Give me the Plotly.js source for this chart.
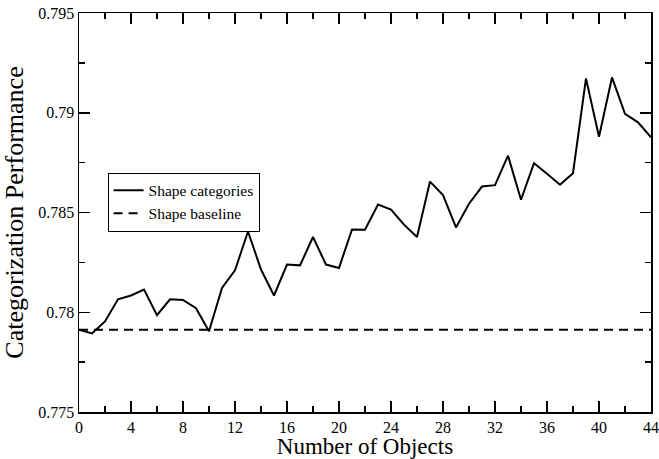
<!DOCTYPE html>
<html>
<head>
<meta charset="utf-8">
<script src="https://cdn.plot.ly/plotly-3.0.1.min.js"></script>
<style>html,body{margin:0;padding:0;background:#fff;}#chart{width:659px;height:459px;}</style>
</head>
<body>
<div id="chart"></div>
<script>
const numObjects = [0,1,2,3,4,5,6,7,8,9,10,11,12,13,14,15,16,17,18,19,20,21,22,23,24,25,26,27,28,29,30,31,32,33,34,35,36,37,38,39,40,41,42,43,44];
const shapeCategories = [0.77913,0.77894,0.77954,0.78065,0.78084,0.78114,0.77985,0.78065,0.78062,0.7802,0.77905,0.78122,0.7821,0.78405,0.78214,0.78084,0.78239,0.78235,0.78377,0.78239,0.78222,0.78415,0.78414,0.7854,0.78515,0.78439,0.78377,0.78655,0.78587,0.78425,0.78544,0.7863,0.78637,0.78785,0.78564,0.78747,0.78694,0.78639,0.78697,0.79172,0.7888,0.79177,0.78994,0.78952,0.78877];
const shapeBaseline = numObjects.map(() => 0.77912);
const seriesNames = ["Shape categories", "Shape baseline"];

const font = "Liberation Serif, Times New Roman, serif";
const data = [
  {x: numObjects, y: shapeCategories, mode: 'lines', name: seriesNames[0],
   line: {color: '#000', width: 2}},
  {x: numObjects, y: shapeBaseline, mode: 'lines', name: seriesNames[1],
   line: {color: '#000', width: 2, dash: '9px,6px'}}
];
const axisCommon = {
  showgrid: false, zeroline: false, showline: true, linecolor: '#000', linewidth: 1.5,
  ticks: 'inside', ticklen: 11, tickwidth: 1.5, tickcolor: '#000', mirror: 'allticks',
  tickfont: {family: font, size: 16, color: '#000'}
};
const layout = {
  width: 659, height: 459,
  margin: {l: 79, r: 8, t: 13, b: 47},
  paper_bgcolor: '#fff', plot_bgcolor: '#fff',
  showlegend: true,
  legend: {x: 0.05, y: 0.6, xanchor: 'left', yanchor: 'top',
    bordercolor: '#000', borderwidth: 1, bgcolor: '#fff', itemwidth: 30,
    font: {family: font, size: 15.5, color: '#000'}, tracegroupgap: 0},
  xaxis: Object.assign({}, axisCommon, {
    range: [0, 44], tick0: 0, dtick: 4,
    minor: {dtick: 2, ticks: 'inside', ticklen: 6, tickwidth: 1.5, tickcolor: '#000'},
    title: {text: 'Number of Objects', font: {family: font, size: 23, color: '#000'}, standoff: 0}
  }),
  yaxis: Object.assign({}, axisCommon, {
    range: [0.775, 0.795], tick0: 0.775, dtick: 0.005,
    minor: {dtick: 0.0025, ticks: 'inside', ticklen: 6, tickwidth: 1.5, tickcolor: '#000'},
    title: {text: 'Categorization Performance', font: {family: font, size: 26, color: '#000'}, standoff: 8}
  })
};
Plotly.newPlot('chart', data, layout, {displayModeBar: false, staticPlot: true});
</script>
</body>
</html>
